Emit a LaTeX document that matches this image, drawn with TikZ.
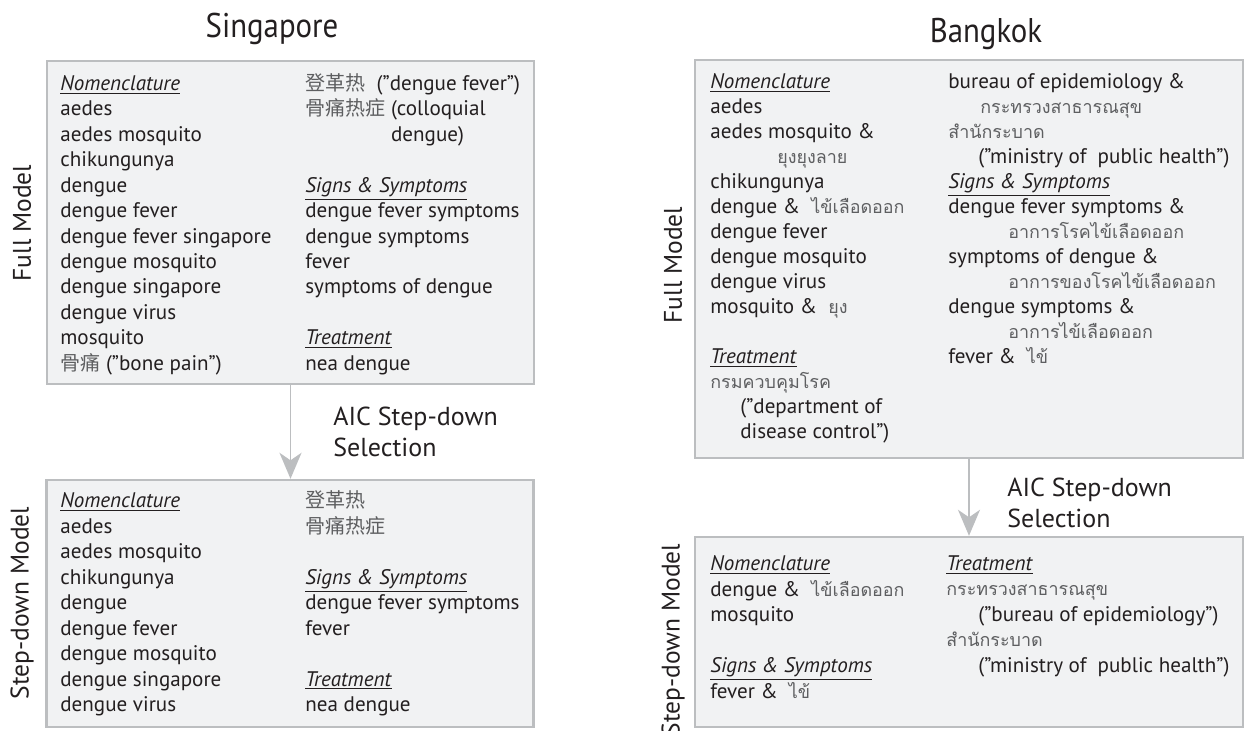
\documentclass[tikz,border=0pt]{standalone}
\usepackage{fontspec}
\setmainfont{PT Sans}
\newfontfamily\thaifont[Script=Thai]{Loma}
\newfontfamily\cjkfont{Noto Sans CJK SC}
\usepackage{xcolor}
\usetikzlibrary{arrows.meta}
\tikzset{>=Stealth}
\definecolor{ink}{HTML}{231F20}
\definecolor{panelfill}{HTML}{F1F2F3}
\definecolor{panelline}{HTML}{BCBEC0}
\definecolor{script}{HTML}{5E5F61}
\newcommand{\hd}[1]{\underline{\textit{#1}}}
\newcommand{\thw}[1]{{\thaifont\fontsize{10.2}{14.5}\selectfont\color{script}#1}}
\newcommand{\zhw}[1]{{\cjkfont\fontsize{11.4}{14.5}\selectfont\color{script}#1}}
\lineskiplimit=-\maxdimen

\begin{document}
\begin{tikzpicture}[x=0.02cm, y=-0.02cm,
    panel/.style={draw=panelline, fill=panelfill, line width=1.4pt, inner sep=0pt},
    % anchored at the baseline of the last line
    col/.style={anchor=base west, align=left, inner sep=0pt, text=ink, font=\fontsize{12}{14.5}\selectfont},
    tightcol/.style={col, font=\fontsize{12}{14.2}\selectfont},
    side/.style={rotate=90, text=ink, font=\fontsize{14.5}{17}\selectfont},
    city/.style={anchor=base, text=ink, font=\fontsize{19.5}{22}\selectfont, xscale=0.9},
    aic/.style={anchor=base west, align=left, inner sep=0pt, text=ink, font=\fontsize{14.8}{17.6}\selectfont},
    flow/.style={->, draw=panelline, line width=1.1pt, >={Stealth[length=0.52cm,width=0.44cm,inset=0.15cm]}}]
    \useasboundingbox (0,0) rectangle (1249,731);
    % panels
    \node (sgfull) [panel, minimum width=9.74cm, minimum height=6.46cm] at (290.5,222.5) {};
    \node (sgstep) [panel, minimum width=9.74cm, minimum height=4.94cm] at (290,603.5) {};
    \node (bkfull) [panel, minimum width=10.96cm, minimum height=7.96cm] at (969,259) {};
    \node (bkstep) [panel, minimum width=10.96cm, minimum height=3.8cm] at (969,632) {};
    % city titles
    \node (sgtitle) [city] at (272,37) {Singapore};
    \node (bktitle) [city] at (986,42) {Bangkok};
    % row labels
    \node (sgfulllab) [side] at (22,223) {Full Model};
    \node (sgsteplab) [side] at (22,603) {Step-down Model};
    \node (bkfulllab) [side] at (673,265) {Full Model};
    \node (bksteplab) [side] at (673,640) {Step-down Model};
    % step-down arrows
    \draw[flow] (sgfull.south) -- (sgfull.south |- sgstep.north);
    \draw[flow] (bkfull.south) -- (bkfull.south |- bkstep.north);
    \node (sgaic) [aic] at (333,456) {AIC Step-down\\Selection};
    \node (bkaic) [aic] at (1007,527) {AIC Step-down\\Selection};
    % Singapore, full model
    \node (sgfullA) [col] at (60,370.4) {\hd{Nomenclature}\\ aedes\\ aedes mosquito\\ chikungunya\\
        dengue\\ dengue fever\\ dengue fever singapore\\ dengue mosquito\\ dengue singapore\\
        dengue virus\\ mosquito\\ \zhw{骨痛}\ (”bone pain”)};
    \node (sgfullB) [col] at (305,370.4) {\zhw{登革热}\ \ (”dengue fever”)\\ \zhw{骨痛热症}\ (colloquial\\
        \phantom{\zhw{骨痛热症}\ }dengue)\\ ~\\ \hd{Signs \& Symptoms}\\ dengue fever symptoms\\
        dengue symptoms\\ fever\\ symptoms of dengue\\ ~\\ \hd{Treatment}\\ nea dengue};
    % Singapore, step-down model
    \node (sgstepA) [col] at (60,711.6) {\hd{Nomenclature}\\ aedes\\ aedes mosquito\\ chikungunya\\
        dengue\\ dengue fever\\ dengue mosquito\\ dengue singapore\\ dengue virus};
    \node (sgstepB) [col] at (305,711.6) {\zhw{登革热}\\ \zhw{骨痛热症}\\ ~\\ \hd{Signs \& Symptoms}\\
        dengue fever symptoms\\ fever\\ ~\\ \hd{Treatment}\\ nea dengue};
    % Bangkok, full model
    \node (bkfullA) [tightcol] at (710,438) {\hd{Nomenclature}\\ aedes\\ aedes mosquito \&\\
        \hspace*{1.34cm}\thw{ยุงยุงลาย}\\ chikungunya\\ dengue \&~ \thw{ไข้เลือดออก}\\ dengue fever\\
        dengue mosquito\\ dengue virus\\ mosquito \&~ \thw{ยุง}\\ ~\\ \hd{Treatment}\\
        \thw{กรมควบคุมโรค}\\ \hspace*{0.6cm}(”department of\\ \hspace*{0.6cm}disease control”)};
    \node (bkfullB) [tightcol] at (948,363) {bureau of epidemiology \&\\ \hspace*{0.64cm}\thw{กระทรวงสาธารณสุข}\\
        \thw{สำนักระบาด}\\ \hspace*{0.6cm}(”ministry of\ \ public health”)\\ \hd{Signs \& Symptoms}\\
        dengue fever symptoms \&\\ \hspace*{1.2cm}\thw{อาการโรคไข้เลือดออก}\\ symptoms of dengue \&\\
        \hspace*{1.2cm}\thw{อาการของโรคไข้เลือดออก}\\ dengue symptoms \&\\
        \hspace*{1.2cm}\thw{อาการไข้เลือดออก}\\ fever \&~ \thw{ไข้}};
    % Bangkok, step-down model
    \node (bkstepA) [col] at (710,698) {\hd{Nomenclature}\\ dengue \&~ \thw{ไข้เลือดออก}\\ mosquito\\ ~\\
        \hd{Signs \& Symptoms}\\ fever \&~ \thw{ไข้}};
    \node (bkstepB) [col] at (946,672.3) {\hd{Treatment}\\ \thw{กระทรวงสาธารณสุข}\\
        \hspace*{0.64cm}(”bureau of epidemiology”)\\ \thw{สำนักระบาด}\\
        \hspace*{0.64cm}(”ministry of\ \ public health”)};
\end{tikzpicture}
\end{document}
